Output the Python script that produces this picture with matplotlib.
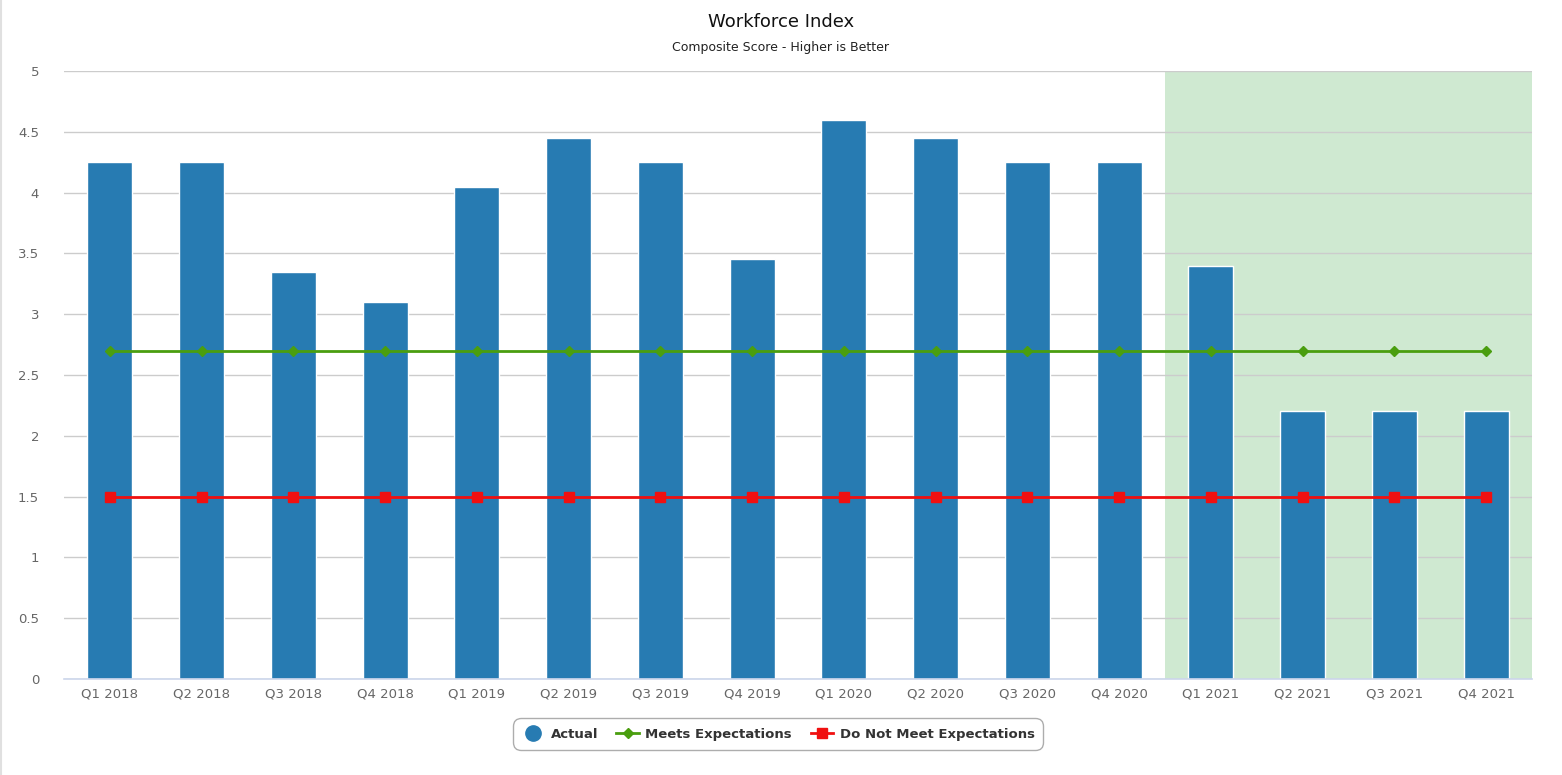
import matplotlib
matplotlib.use("Agg")
import matplotlib.pyplot as plt
from matplotlib.lines import Line2D
import numpy as np

quarters = ["Q1 2018", "Q2 2018", "Q3 2018", "Q4 2018",
            "Q1 2019", "Q2 2019", "Q3 2019", "Q4 2019",
            "Q1 2020", "Q2 2020", "Q3 2020", "Q4 2020",
            "Q1 2021", "Q2 2021", "Q3 2021", "Q4 2021"]
actual = [4.25, 4.25, 3.35, 3.1, 4.05, 4.45, 4.25, 3.45,
          4.6, 4.45, 4.25, 4.25, 3.4, 2.2, 2.2, 2.2]
meets = [2.7] * 16
not_meets = [1.5] * 16
highlight_start = "Q1 2021"

plt.rcParams["font.family"] = ["DejaVu Sans"]

fig = plt.figure(figsize=(15.62, 7.75), dpi=100)
ax = fig.add_axes([64 / 1562, 1 - 679 / 775, (1532 - 64) / 1562, (679 - 71) / 775])

x = np.arange(len(quarters))
hs = quarters.index(highlight_start)
ax.axvspan(hs - 0.5, len(quarters) - 0.5, color="#cfe9d1", zorder=0, lw=0)

ax.bar(x, actual, width=0.49, color="#277bb2", edgecolor="white", linewidth=1, zorder=2)
ax.plot(x, meets, color="#4a9e0f", lw=2.0, marker="D", ms=5.5, zorder=3)
ax.plot(x, not_meets, color="#f01010", lw=2.0, marker="s", ms=7.5, zorder=4)

ax.set_xlim(-0.5, len(quarters) - 0.5)
ax.set_ylim(0, 5)
ax.set_yticks([0, 0.5, 1, 1.5, 2, 2.5, 3, 3.5, 4, 4.5, 5])
ax.set_yticklabels(["0", "0.5", "1", "1.5", "2", "2.5", "3", "3.5", "4", "4.5", "5"])
ax.set_xticks(x)
ax.set_xticklabels(quarters)
ax.tick_params(axis="both", length=0, labelsize=9.5, labelcolor="#666666")
ax.tick_params(axis="y", pad=18)
ax.tick_params(axis="x", pad=6)
ax.grid(axis="y", color="#cccccc", lw=1, zorder=1)
ax.set_axisbelow(True)
for s in ["top", "right", "left"]:
    ax.spines[s].set_visible(False)
ax.spines["bottom"].set_color("#ccd6eb")
ax.spines["bottom"].set_linewidth(1.2)
ax.spines["bottom"].set_zorder(5)

fig.text(0.5, 1 - 22 / 775, "Workforce Index", ha="center", va="center", fontsize=13, color="#111111")
fig.text(0.5, 1 - 47 / 775, "Composite Score - Higher is Better", ha="center", va="center", fontsize=9, color="#222222")

handles = [
    Line2D([], [], ls="none", marker="o", ms=11, color="#277bb2"),
    Line2D([], [], color="#4a9e0f", lw=2.0, marker="D", ms=5),
    Line2D([], [], color="#f01010", lw=2.0, marker="s", ms=7),
]
labels = ["Actual", "Meets Expectations", "Do Not Meet Expectations"]
leg = fig.legend(handles, labels, loc="center", bbox_to_anchor=(778 / 1562, 1 - 734 / 775),
                 ncol=3, frameon=True, fancybox=True, handlelength=1.7, handleheight=1.2,
                 handletextpad=0.5, columnspacing=1.4, borderpad=0.45,
                 prop={"weight": "bold", "size": 9.5})
for t in leg.get_texts():
    t.set_color("#333333")
frame = leg.get_frame()
frame.set_edgecolor("#999999")
frame.set_linewidth(1)
frame.set_boxstyle("round,pad=0.2,rounding_size=0.6")

# thin light border along the figure's left edge
fig.add_artist(Line2D([0.5 / 1562, 0.5 / 1562], [0, 1], color="#e0e0e0", lw=1.5))

fig.savefig("out.png", dpi=100)
